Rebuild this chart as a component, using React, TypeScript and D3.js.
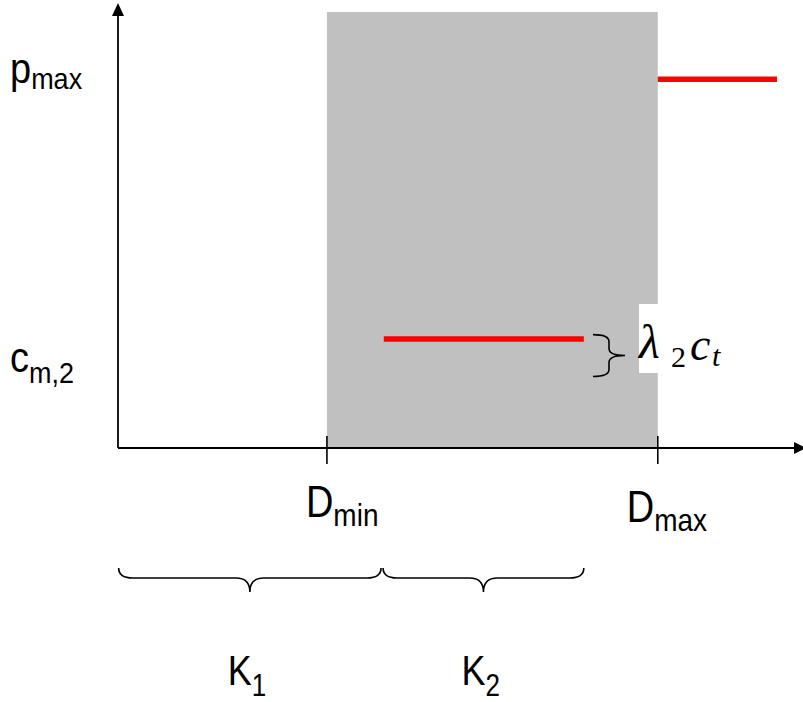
import React, { useRef, useEffect } from 'react';
import * as d3 from 'd3';

// concept chart: price levels over demand, shaded band between Dmin and Dmax
const xMarkNames = ['D', 'D'];
const xMarkSubs = ['min', 'max'];
const xMarkValues = [30.5, 78.8];

const yLevelNames = ['p', 'c'];
const yLevelSubs = ['max', 'm,2'];
const yLevelValues = [84.6, 16.4];

const segStart = [78.8, 38.8];
const segEnd = [96.2, 68];
const segValue = [84.6, 25];

const braceNames = ['K', 'K'];
const braceSubs = ['1', '2'];
const braceFrom = [0.1, 38.7];
const braceTo = [38.4, 68];

const gapFrom = 16.4;
const gapTo = 26;

const W = 803;
const H = 702;
const SANS = '"Liberation Sans", Arial, sans-serif';
const SERIF = '"Liberation Serif", "Times New Roman", serif';

// brace along local x from 0..len, ends at y=0, tip at y=depth
function bracePath(len, depth, lineAt, r) {
  const m = len / 2;
  return `M0,0 Q0,${lineAt} ${r},${lineAt} L${m - r},${lineAt} Q${m},${lineAt} ${m},${depth} ` +
    `Q${m},${lineAt} ${m + r},${lineAt} L${len - r},${lineAt} Q${len},${lineAt} ${len},0`;
}

function App() {
  const svgRef = useRef(null);

  useEffect(() => {
    const svg = d3.select(svgRef.current);
    svg.selectAll('*').remove();

    const x = d3.scaleLinear().domain([0, 100]).range([118, 803]);
    const y = d3.scaleLinear().domain([0, 100]).range([448, 12]);

    // shaded band
    svg.append('rect')
      .attr('x', x(xMarkValues[0]))
      .attr('y', y(100))
      .attr('width', x(xMarkValues[1]) - x(xMarkValues[0]))
      .attr('height', y(0) - y(100))
      .attr('fill', '#c0c0c0');

    // axes
    svg.append('line')
      .attr('x1', x(0)).attr('y1', y(0))
      .attr('x2', x(0)).attr('y2', 14)
      .attr('stroke', '#000').attr('stroke-width', 1.8);
    svg.append('path')
      .attr('d', `M${x(0)},3 L${x(0) - 6},16 L${x(0) + 6},16 Z`)
      .attr('fill', '#000');
    svg.append('line')
      .attr('x1', x(0)).attr('y1', y(0))
      .attr('x2', 796).attr('y2', y(0))
      .attr('stroke', '#000').attr('stroke-width', 1.8);
    svg.append('path')
      .attr('d', `M806,${y(0)} L794,${y(0) - 6} L794,${y(0) + 6} Z`)
      .attr('fill', '#000');

    // ticks at Dmin/Dmax
    svg.selectAll('.tick')
      .data(xMarkValues)
      .join('line')
      .attr('class', 'tick')
      .attr('x1', (d) => x(d)).attr('x2', (d) => x(d))
      .attr('y1', y(0) - 12).attr('y2', y(0) + 16)
      .attr('stroke', '#000').attr('stroke-width', 1.6);

    // red price segments
    svg.selectAll('.seg')
      .data(segValue)
      .join('line')
      .attr('class', 'seg')
      .attr('x1', (d, i) => x(segStart[i]))
      .attr('x2', (d, i) => x(segEnd[i]))
      .attr('y1', (d) => y(d)).attr('y2', (d) => y(d))
      .attr('stroke', '#ff0000').attr('stroke-width', 5.5);

    // label helper: main letter with subscript, stretched a bit vertically
    const label = (px, py, main, sub, size, subSize, subDy, sy) => {
      const g = svg.append('g').attr('transform', `translate(${px},${py}) scale(1,${sy})`);
      const t = g.append('text')
        .attr('font-family', SANS)
        .attr('font-size', size)
        .attr('fill', '#000');
      t.append('tspan').text(main);
      t.append('tspan').attr('font-size', subSize).attr('dy', subDy).text(sub);
    };

    const yLabelDy = [4, -4];
    const yLabelSubDy = [5, 10];
    yLevelValues.forEach((v, i) => {
      label(10, y(v) + yLabelDy[i], yLevelNames[i], yLevelSubs[i], 38, 27, yLabelSubDy[i], 1.1);
    });

    const xLabelBase = [517, 522];
    xMarkValues.forEach((v, i) => {
      label(x(v) - 21 - i * 10, xLabelBase[i], xMarkNames[i], xMarkSubs[i], 38, 28, 8, 1.15);
    });

    // K braces under the axis
    braceFrom.forEach((f, i) => {
      const len = x(braceTo[i]) - x(f);
      svg.append('path')
        .attr('transform', `translate(${x(f)},568)`)
        .attr('d', bracePath(len, 24, 10, 14))
        .attr('fill', 'none').attr('stroke', '#000').attr('stroke-width', 1.6);
      label(x(f) + len / 2 - 22, 685, braceNames[i], braceSubs[i], 36, 26, 9, 1.2);
    });

    // small brace for the gap λ2·ct
    const gy0 = y(gapTo);
    const glen = y(gapFrom) - gy0;
    svg.append('path')
      .attr('transform', `translate(593,${gy0}) matrix(0,1,1,0,0,0)`)
      .attr('d', bracePath(glen, 32, 16, 7))
      .attr('fill', 'none').attr('stroke', '#000').attr('stroke-width', 1.6);

    svg.append('rect')
      .attr('x', 639).attr('y', 304)
      .attr('width', 110).attr('height', 69)
      .attr('fill', '#fff');

    const lt = svg.append('text')
      .attr('y', 358)
      .attr('font-family', SERIF)
      .attr('fill', '#000');
    lt.append('tspan').attr('x', 639).attr('font-size', 48).attr('font-style', 'italic').text('λ');
    lt.append('tspan').attr('x', 671).attr('font-size', 30).attr('dy', 9).text('2');
    lt.append('tspan').attr('x', 690).attr('font-size', 46).attr('font-style', 'italic').attr('dy', -7).text('c');
    lt.append('tspan').attr('x', 712).attr('font-size', 30).attr('font-style', 'italic').attr('dy', 6).text('t');
  }, []);

  return (
    <svg
      ref={svgRef}
      width={W}
      height={H}
      style={{ position: 'absolute', left: 0, top: 0, background: '#fff' }}
    />
  );
}

export default App;
